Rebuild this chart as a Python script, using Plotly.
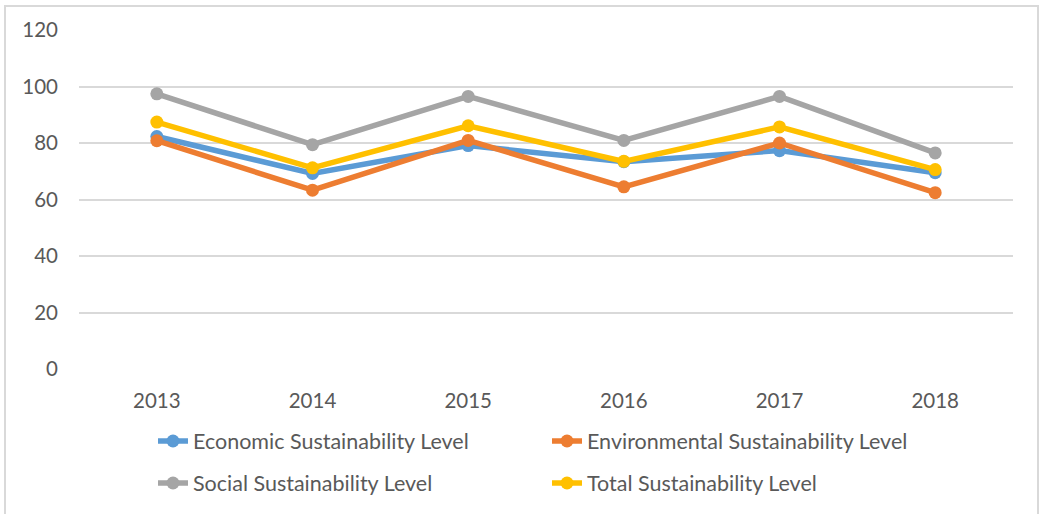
import plotly.graph_objects as go

years = ["2013", "2014", "2015", "2016", "2017", "2018"]
economic = [82.3, 69.2, 79.1, 73.4, 77.3, 69.5]
environmental = [80.8, 63.3, 80.9, 64.5, 80.0, 62.4]
social = [97.4, 79.4, 96.5, 80.9, 96.5, 76.5]
total = [87.4, 71.2, 86.1, 73.5, 85.7, 70.6]

names = ["Economic Sustainability Level", "Environmental Sustainability Level",
         "Social Sustainability Level", "Total Sustainability Level"]
series = [economic, environmental, social, total]
colors = ["#5B9BD5", "#ED7D31", "#A5A5A5", "#FFC000"]
legends = ["legend", "legend", "legend2", "legend2"]

FONT = "Lato"
TXT = "#595959"
FS = 20.5
LFS = 21.5

fig = go.Figure()
for n, s, c, lg in zip(names, series, colors, legends):
    fig.add_trace(go.Scatter(
        x=years, y=s, name=n, mode="lines+markers",
        line=dict(color=c, width=5.5),
        marker=dict(color=c, size=13),
        legend=lg,
    ))

W, H = 1043, 514
L, R, T, B = 79, 30, 30, 144
pw, ph = W - L - R, H - T - B

def px_x(x):
    return (x - L) / pw

def px_y(y):
    return (H - B - y) / ph

leg_common = dict(orientation="h", xanchor="left", yanchor="middle",
                  font=dict(family=FONT, size=LFS, color=TXT),
                  entrywidth=349, bgcolor="rgba(0,0,0,0)", itemwidth=30)

fig.update_layout(
    width=W, height=H,
    margin=dict(l=L, r=R, t=T, b=B),
    paper_bgcolor="white", plot_bgcolor="white",
    font=dict(family=FONT, color=TXT, size=FS),
    legend=dict(x=px_x(153), y=px_y(441), **leg_common),
    legend2=dict(x=px_x(153), y=px_y(483), **leg_common),
    xaxis=dict(range=[-0.5, 5.5], showgrid=False, showline=False, zeroline=False,
               ticks="", tickfont=dict(family=FONT, size=FS, color=TXT),
               ticklabelstandoff=17),
    yaxis=dict(range=[0, 120], dtick=20, showgrid=True, gridcolor="#D9D9D9",
               gridwidth=1.5, zeroline=False, showline=False, ticks="",
               tickfont=dict(family=FONT, size=FS, color=TXT),
               ticklabelstandoff=20),
    shapes=[dict(type="rect", xref="paper", yref="paper",
                 x0=px_x(5), x1=px_x(1038), y0=px_y(6), y1=px_y(518),
                 line=dict(color="#D9D9D9", width=2), fillcolor="rgba(0,0,0,0)",
                 layer="below")],
)

fig.write_html("out.html", config={"displayModeBar": False},
               post_script="document.body.style.margin='0';")
